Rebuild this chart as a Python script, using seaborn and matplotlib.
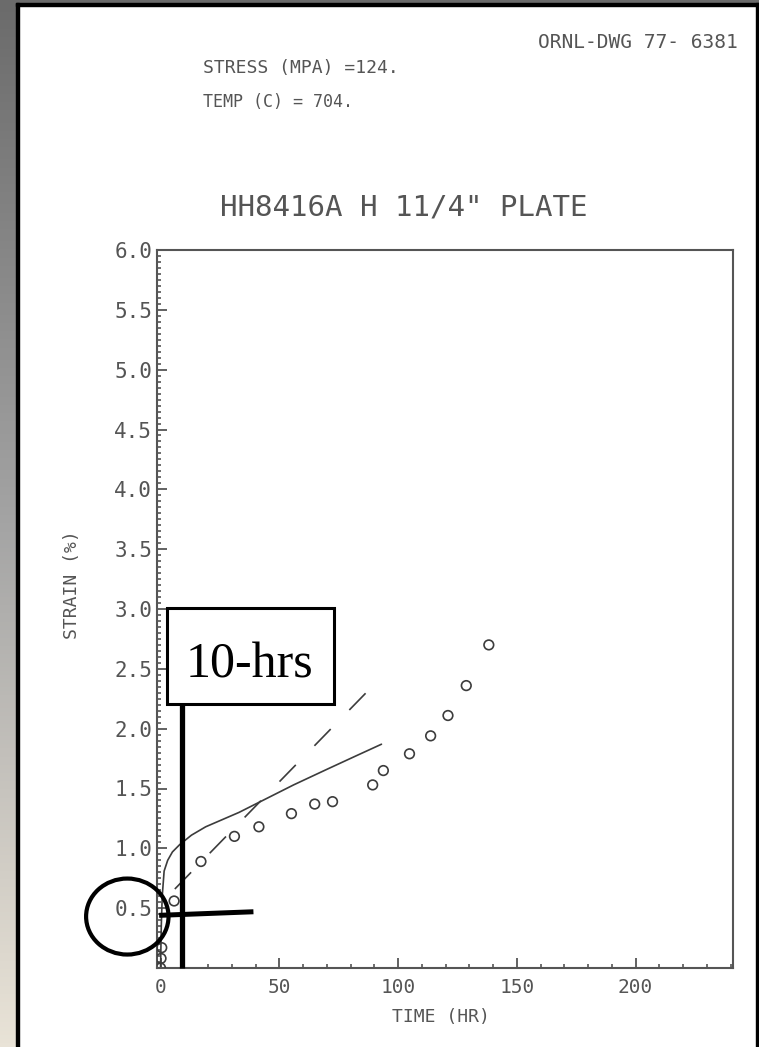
import numpy as np
import pandas as pd
import matplotlib
matplotlib.use("Agg")
import matplotlib.pyplot as plt
from matplotlib.patches import Rectangle, Ellipse
from matplotlib.colors import LinearSegmentedColormap
from matplotlib.ticker import MultipleLocator
import seaborn as sns

# ---------------- data ----------------
obs_time = [0.0, 0.2, 0.5, 5.7, 17.0, 31.1, 41.4, 55.1, 64.9, 72.4, 89.3, 93.8,
            104.8, 113.7, 121.0, 128.7, 138.2]
obs_strain = [0.0, 0.08, 0.17, 0.56, 0.89, 1.10, 1.18, 1.29, 1.37, 1.39, 1.53, 1.65,
              1.79, 1.94, 2.11, 2.36, 2.70]

solid_time = [0, 0.3, 0.7, 1.5, 3, 5, 8, 13, 19, 26, 33, 45, 56, 70, 82, 93]
solid_strain = [0, 0.35, 0.60, 0.81, 0.90, 0.97, 1.03, 1.11, 1.18, 1.24, 1.30,
                1.42, 1.53, 1.66, 1.77, 1.87]

dash_time = [6, 88]
dash_strain = [0.66, 2.33]

x_ticks = [0, 50, 100, 150, 200]
y_ticks = [0.5, 1.0, 1.5, 2.0, 2.5, 3.0, 3.5, 4.0, 4.5, 5.0, 5.5, 6.0]
y_tick_labels = ["0.5", "1.0", "1.5", "2.0", "2.5", "3.0", "3.5", "4.0", "4.5",
                 "5.0", "5.5", "6.0"]

title_text = 'HH8416A H 11/4" PLATE'
dwg_text = "ORNL-DWG 77- 6381"
stress_text = "STRESS (MPA) =124."
temp_text = "TEMP (C) = 704."
xlabel_text = "TIME (HR)"
ylabel_text = "STRAIN (%)"
note_text = "10-hrs"

# ---------------- figure ----------------
sns.set_style("white")
plt.rcParams["font.family"] = ["DejaVu Sans Mono", "DejaVu Sans"]

W, H = 759, 1047
fig = plt.figure(figsize=(W / 100, H / 100), dpi=100, facecolor="white")

# frame decoration: gradient strip on the left, grey strip on top, black border
grad_ax = fig.add_axes([0, 0, 16 / W, 1])
cmap = LinearSegmentedColormap.from_list("g", ["#6b6b6b", "#a4a4a4", "#e9e3d7"])
grad_ax.imshow(np.linspace(0, 1, 256).reshape(-1, 1), aspect="auto", cmap=cmap)
grad_ax.set_axis_off()
fig.patches.append(Rectangle((0, 1 - 3 / H), 1, 3 / H, transform=fig.transFigure,
                             color="#6b6b6b", zorder=0))
fig.patches.append(Rectangle((16 / W, 0), 3 / W, 1 - 3 / H, transform=fig.transFigure,
                             color="black", zorder=1))
fig.patches.append(Rectangle((16 / W, 1 - 6 / H), 1 - 16 / W, 3 / H,
                             transform=fig.transFigure, color="black", zorder=1))
fig.patches.append(Rectangle((756 / W, 0), 3 / W, 1 - 3 / H, transform=fig.transFigure,
                             color="black", zorder=1))

gray = "#555555"
ax = fig.add_axes([157 / W, 79 / H, 576 / W, 718 / H])
ax.set_facecolor("white")

obs = pd.DataFrame({"t": obs_time, "s": obs_strain})
solid = pd.DataFrame({"t": solid_time, "s": solid_strain})
dash = pd.DataFrame({"t": dash_time, "s": dash_strain})

sns.lineplot(data=solid, x="t", y="s", ax=ax, color="#3c3c3c", lw=1.2,
             estimator=None, sort=False)
sns.lineplot(data=dash, x="t", y="s", ax=ax, color="#3c3c3c", lw=1.2,
             estimator=None, sort=False, dashes=False)
ax.lines[-1].set_linestyle((0, (14, 16)))
sns.scatterplot(data=obs, x="t", y="s", ax=ax, marker="o", s=48,
                facecolor="none", edgecolor="#3c3c3c", linewidth=1.2, zorder=3)

ax.set_xlim(-1.5, 241)
ax.set_ylim(0, 6)
ax.set_xticks(x_ticks)
ax.set_yticks(y_ticks)
ax.set_yticklabels(y_tick_labels)
ax.xaxis.set_minor_locator(MultipleLocator(10))
ax.yaxis.set_minor_locator(MultipleLocator(0.05))
ax.tick_params(which="both", direction="in", colors=gray, top=False, right=False,
               bottom=True, left=True)
ax.tick_params(axis="y", which="major", length=7, width=1.3, pad=3.5,
               labelsize=15, labelcolor=gray)
ax.tick_params(axis="x", which="major", length=7, width=1.3, pad=7,
               labelsize=14, labelcolor=gray)
ax.tick_params(which="minor", length=3, width=1.2)
ax.set_xlabel("")
ax.set_ylabel("")
for sp in ax.spines.values():
    sp.set_color(gray)
    sp.set_linewidth(1.5)

# annotations (black overlay)
ax.add_patch(Rectangle((2.8, 2.203), 70.1, 0.803, facecolor="white",
                       edgecolor="black", lw=2.2, zorder=5, clip_on=False))
ax.text(37.4, 2.431, note_text, family="Liberation Serif", fontsize=36,
        ha="center", va="baseline", color="black", zorder=6)
ax.plot([9, 9], [0, 2.203], color="black", lw=3.8, zorder=5, clip_on=False,
        solid_capstyle="butt")
ax.plot([-0.6, 39.1], [0.44, 0.47], color="black", lw=3.6, zorder=5, clip_on=False,
        solid_capstyle="butt")
ax.add_patch(Ellipse((-14.0, 0.43), 34.7, 0.635, facecolor="none",
                     edgecolor="black", lw=3.0, zorder=6, clip_on=False))

# texts
fig.text(404 / W, 1 - 208 / H, title_text, ha="center", va="center",
         fontsize=21, color=gray)
fig.text(538 / W, 1 - 43 / H, dwg_text, ha="left", va="center", fontsize=14, color=gray)
fig.text(203 / W, 1 - 68 / H, stress_text, ha="left", va="center", fontsize=13,
         color=gray)
fig.text(203 / W, 1 - 102 / H, temp_text, ha="left", va="center", fontsize=12,
         color=gray)
fig.text(441 / W, 1 - 1017 / H, xlabel_text, ha="center", va="center", fontsize=13,
         color=gray)
fig.text(72 / W, 1 - 585 / H, ylabel_text, ha="center", va="center", fontsize=13,
         color=gray, rotation=90)

fig.savefig("out.png", dpi=100, facecolor="white")
